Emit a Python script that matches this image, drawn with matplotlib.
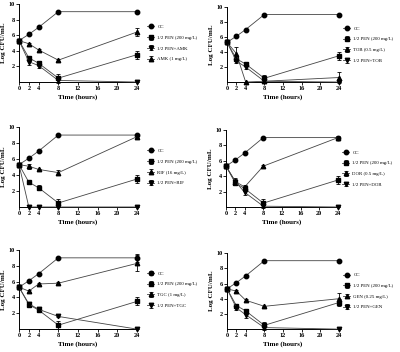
import matplotlib
matplotlib.use("Agg")
import matplotlib.pyplot as plt

plt.rcParams["font.family"] = ["Liberation Serif", "DejaVu Serif"]
plt.rcParams["font.weight"] = "bold"

hours = [0, 2, 4, 8, 24]

cc = [5.3, 6.1, 7.0, 9.0, 9.0]
pen = [5.3, 3.1, 2.4, 0.5, 3.5]
pen_err = [0.1, 0.2, 0.3, 0.5, 0.5]

amk = [5.3, 4.9, 4.1, 2.8, 6.4]
amk_err = [0.1, 0.1, 0.1, 0.1, 0.5]
pen_amk = [5.3, 2.6, 2.1, 0.2, 0.0]
pen_amk_err = [0.1, 0.4, 0.3, 0.3, 0.0]

tob = [5.3, 3.8, 0.0, 0.1, 0.6]
tob_err = [0.1, 0.9, 0.0, 0.2, 0.7]
pen_tob = [5.3, 2.8, 2.0, 0.1, 0.0]
pen_tob_err = [0.1, 0.2, 0.3, 0.2, 0.0]

rif = [5.3, 5.1, 4.7, 4.3, 8.8]
rif_err = [0.1, 0.3, 0.1, 0.3, 0.2]
pen_rif = [5.3, 0.0, 0.0, 0.0, 0.0]
pen_rif_err = [0.1, 0.0, 0.0, 0.0, 0.0]

dor = [5.3, 3.3, 2.6, 5.3, 9.0]
dor_err = [0.1, 0.4, 0.3, 0.1, 0.2]
pen_dor = [5.3, 3.3, 1.9, 0.1, 0.0]
pen_dor_err = [0.1, 0.3, 0.3, 0.2, 0.0]

tgc = [5.3, 4.8, 5.7, 5.8, 8.3]
tgc_err = [0.1, 0.1, 0.1, 0.1, 1.0]
pen_tgc = [5.3, 3.2, 2.5, 1.6, 0.0]
pen_tgc_err = [0.1, 0.2, 0.2, 0.1, 0.0]
cc_tgc_err = [0.1, 0.1, 0.1, 0.1, 0.5]

gen = [5.3, 5.0, 3.8, 3.0, 4.0]
gen_err = [0.1, 0.1, 0.1, 0.1, 0.8]
pen_gen = [5.3, 2.8, 1.9, 0.2, 0.0]
pen_gen_err = [0.1, 0.3, 0.5, 0.3, 0.0]

panels = [
    # axes rect, legend x offset, series list in legend order
    ([0.0475, 0.767, 0.295, 0.222], 1.07,
     [("CC", cc, None, "o"), ("1/2 PEN (200 mg/L)", pen, pen_err, "s"),
      ("1/2 PEN+AMK", pen_amk, pen_amk_err, "v"), ("AMK (1 mg/L)", amk, amk_err, "^")]),
    ([0.5675, 0.767, 0.28, 0.213], 1.02,
     [("CC", cc, None, "o"), ("1/2 PEN (200 mg/L)", pen, pen_err, "s"),
      ("TOB (0.5 mg/L)", tob, tob_err, "^"), ("1/2 PEN+TOB", pen_tob, pen_tob_err, "v")]),
    ([0.0475, 0.412, 0.295, 0.227], 1.07,
     [("CC", cc, None, "o"), ("1/2 PEN (200 mg/L)", pen, pen_err, "s"),
      ("RIF (16 mg/L)", rif, rif_err, "^"), ("1/2 PEN+RIF", pen_rif, pen_rif_err, "v")]),
    ([0.565, 0.412, 0.28, 0.219], 1.02,
     [("CC", cc, None, "o"), ("1/2 PEN (200 mg/L)", pen, pen_err, "s"),
      ("DOR (0.5 mg/L)", dor, dor_err, "^"), ("1/2 PEN+DOR", pen_dor, pen_dor_err, "v")]),
    ([0.0475, 0.065, 0.295, 0.225], 1.07,
     [("CC", cc, cc_tgc_err, "o"), ("1/2 PEN (200 mg/L)", pen, pen_err, "s"),
      ("TGC (1 mg/L)", tgc, tgc_err, "^"), ("1/2 PEN+TGC", pen_tgc, pen_tgc_err, "v")]),
    ([0.5675, 0.065, 0.28, 0.216], 1.02,
     [("CC", cc, None, "o"), ("1/2 PEN (200 mg/L)", pen, pen_err, "s"),
      ("GEN (0.25 mg/L)", gen, gen_err, "^"), ("1/2 PEN+GEN", pen_gen, pen_gen_err, "v")]),
]

fig = plt.figure(figsize=(4.0, 3.52), dpi=100)
for rect, leg_x, series in panels:
    ax = fig.add_axes(rect)
    for label, vals, err, mk in series:
        ax.errorbar(hours, vals, yerr=err, color="#444444", lw=0.6, marker=mk,
                    ms=3.2, mfc="black", mec="black", ecolor="black", elinewidth=0.6,
                    capsize=1.5, capthick=0.6, label=label, clip_on=False, zorder=3)
    ax.set_xlim(0, 24)
    ax.set_ylim(0, 10)
    ax.set_xticks([0, 2, 4, 8, 12, 16, 20, 24])
    ax.set_yticks([2, 4, 6, 8, 10])
    ax.tick_params(labelsize=4.5, length=2, width=0.6, pad=1)
    for s in ("top", "right"):
        ax.spines[s].set_visible(False)
    for s in ("left", "bottom"):
        ax.spines[s].set_linewidth(0.7)
    ax.set_xlabel("Time (hours)", fontsize=5, fontweight="bold", labelpad=2)
    ax.set_ylabel("Log CFU/mL", fontsize=5, fontweight="bold", labelpad=2)
    ax.legend(loc="center left", bbox_to_anchor=(leg_x, 0.5), frameon=False,
              prop={"size": 3.5, "weight": "normal"}, handlelength=1.4,
              labelspacing=1.3, borderaxespad=0, handletextpad=0.7)

fig.savefig("out.png", dpi=100)
